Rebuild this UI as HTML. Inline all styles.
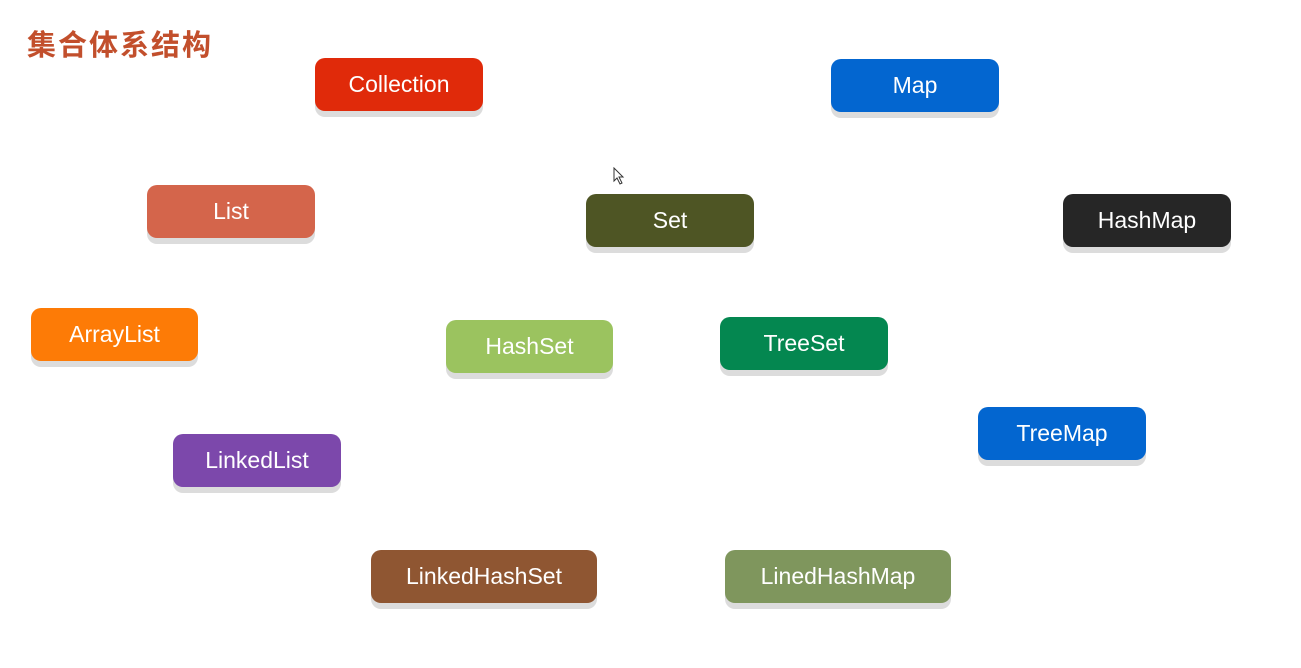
<!DOCTYPE html>
<html><head><meta charset="utf-8"><style>
body{margin:0;width:1301px;height:668px;background:#fff;position:relative;overflow:hidden;font-family:"Liberation Sans","Noto Sans CJK SC",sans-serif}
.t{position:absolute;left:27px;top:22px;font-size:29px;font-weight:bold;color:#c24f2c;letter-spacing:2px}
.b{position:absolute;height:53px;width:168px;border-radius:10px;color:#fff;font-size:23px;display:flex;align-items:center;justify-content:center;box-shadow:0 6px 0 #dcdcdc}
</style></head><body>
<div class="t">集合体系结构</div>
<div class="b" style="left:315px;top:58px;background:#e02a0a">Collection</div>
<div class="b" style="left:831px;top:59px;background:#0366d0">Map</div>
<div class="b" style="left:147px;top:185px;background:#d4654b">List</div>
<div class="b" style="left:586px;top:194px;background:#4e5524">Set</div>
<div class="b" style="left:1063px;top:194px;background:#262626">HashMap</div>
<div class="b" style="left:31px;top:308px;width:167px;background:#fd7b06">ArrayList</div>
<div class="b" style="left:446px;top:320px;width:167px;background:#9bc35f">HashSet</div>
<div class="b" style="left:720px;top:317px;background:#048750">TreeSet</div>
<div class="b" style="left:978px;top:407px;background:#0366d0">TreeMap</div>
<div class="b" style="left:173px;top:434px;background:#7c48ab">LinkedList</div>
<div class="b" style="left:371px;top:550px;width:226px;background:#8f5632">LinkedHashSet</div>
<div class="b" style="left:725px;top:550px;width:226px;background:#7f965d">LinedHashMap</div>
<svg style="position:absolute;left:613px;top:167px" width="12" height="18"><path d="M1 1 L1 14 L4 11 L7 17 L9 16 L6 10 L10 10 Z" fill="#fff" stroke="#333" stroke-width="1"/></svg>
</body></html>
